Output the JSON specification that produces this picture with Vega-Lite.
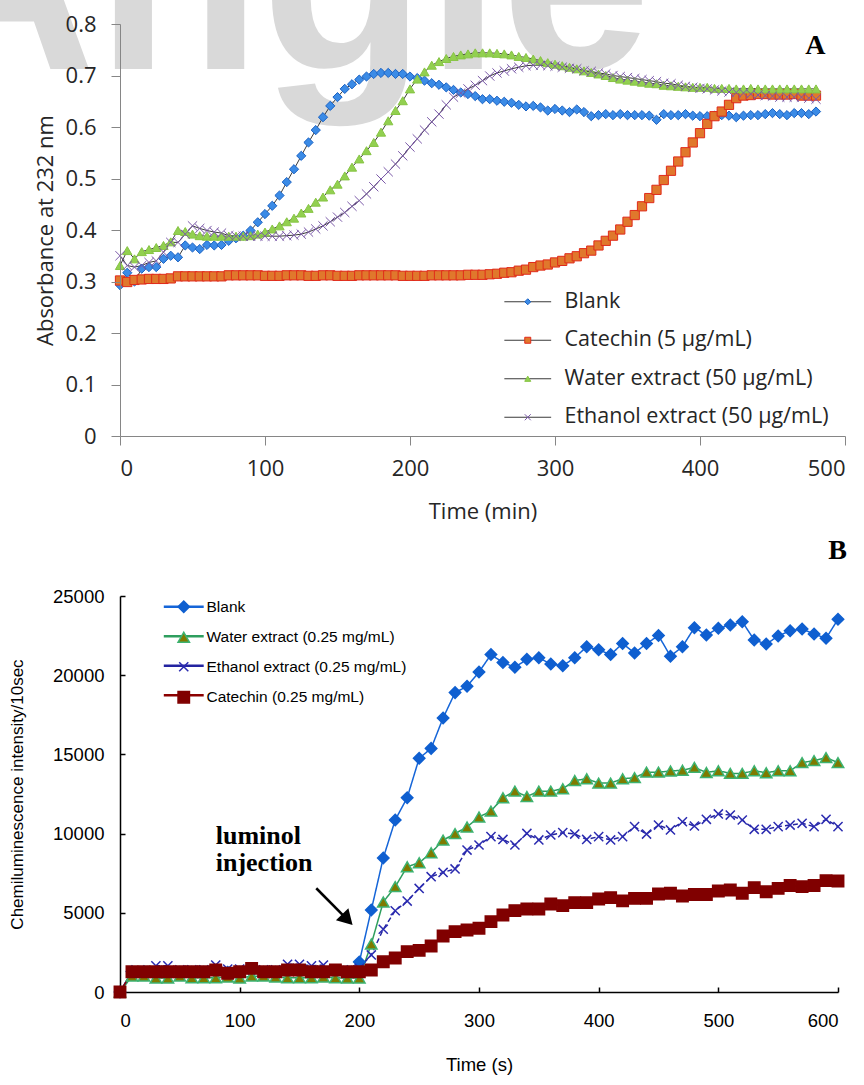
{
"$schema": "https://vega.github.io/schema/vega-lite/v6.json",
"background": "white",
"padding": {"left": -99, "top": -147, "right": 5, "bottom": 5},
"spacing": 15,
"config": {"view": {"stroke": null}},
"resolve": {"scale": {"color": "independent", "fill": "independent", "stroke": "independent", "shape": "independent", "strokeDash": "independent"}, "legend": {"color": "independent", "fill": "independent", "stroke": "independent", "shape": "independent", "strokeDash": "independent"}},
"datasets": {
"absorbance": [
{"series":"Blank","time":0,"value":0.293},{"series":"Blank","time":5,"value":0.317},{"series":"Blank","time":10,"value":0.300},{"series":"Blank","time":15,"value":0.325},{"series":"Blank","time":20,"value":0.328},{"series":"Blank","time":25,"value":0.328},{"series":"Blank","time":30,"value":0.344},{"series":"Blank","time":35,"value":0.350},{"series":"Blank","time":40,"value":0.347},{"series":"Blank","time":45,"value":0.370},
{"series":"Blank","time":50,"value":0.366},{"series":"Blank","time":55,"value":0.363},{"series":"Blank","time":60,"value":0.371},{"series":"Blank","time":65,"value":0.370},{"series":"Blank","time":70,"value":0.371},{"series":"Blank","time":75,"value":0.379},{"series":"Blank","time":80,"value":0.384},{"series":"Blank","time":85,"value":0.389},{"series":"Blank","time":90,"value":0.399},{"series":"Blank","time":95,"value":0.415},
{"series":"Blank","time":100,"value":0.431},{"series":"Blank","time":105,"value":0.447},{"series":"Blank","time":110,"value":0.467},{"series":"Blank","time":115,"value":0.493},{"series":"Blank","time":120,"value":0.518},{"series":"Blank","time":125,"value":0.544},{"series":"Blank","time":130,"value":0.570},{"series":"Blank","time":135,"value":0.594},{"series":"Blank","time":140,"value":0.619},{"series":"Blank","time":145,"value":0.641},
{"series":"Blank","time":150,"value":0.658},{"series":"Blank","time":155,"value":0.674},{"series":"Blank","time":160,"value":0.683},{"series":"Blank","time":165,"value":0.692},{"series":"Blank","time":170,"value":0.698},{"series":"Blank","time":175,"value":0.703},{"series":"Blank","time":180,"value":0.705},{"series":"Blank","time":185,"value":0.705},{"series":"Blank","time":190,"value":0.703},{"series":"Blank","time":195,"value":0.703},
{"series":"Blank","time":200,"value":0.698},{"series":"Blank","time":205,"value":0.695},{"series":"Blank","time":210,"value":0.690},{"series":"Blank","time":215,"value":0.685},{"series":"Blank","time":220,"value":0.682},{"series":"Blank","time":225,"value":0.677},{"series":"Blank","time":230,"value":0.672},{"series":"Blank","time":235,"value":0.667},{"series":"Blank","time":240,"value":0.664},{"series":"Blank","time":245,"value":0.660},
{"series":"Blank","time":250,"value":0.654},{"series":"Blank","time":255,"value":0.654},{"series":"Blank","time":260,"value":0.651},{"series":"Blank","time":265,"value":0.649},{"series":"Blank","time":270,"value":0.647},{"series":"Blank","time":275,"value":0.643},{"series":"Blank","time":280,"value":0.640},{"series":"Blank","time":285,"value":0.641},{"series":"Blank","time":290,"value":0.638},{"series":"Blank","time":295,"value":0.632},
{"series":"Blank","time":300,"value":0.635},{"series":"Blank","time":305,"value":0.632},{"series":"Blank","time":310,"value":0.629},{"series":"Blank","time":315,"value":0.634},{"series":"Blank","time":320,"value":0.629},{"series":"Blank","time":325,"value":0.621},{"series":"Blank","time":330,"value":0.623},{"series":"Blank","time":335,"value":0.625},{"series":"Blank","time":340,"value":0.623},{"series":"Blank","time":345,"value":0.625},
{"series":"Blank","time":350,"value":0.623},{"series":"Blank","time":355,"value":0.623},{"series":"Blank","time":360,"value":0.623},{"series":"Blank","time":365,"value":0.622},{"series":"Blank","time":370,"value":0.614},{"series":"Blank","time":375,"value":0.625},{"series":"Blank","time":380,"value":0.623},{"series":"Blank","time":385,"value":0.623},{"series":"Blank","time":390,"value":0.625},{"series":"Blank","time":395,"value":0.622},
{"series":"Blank","time":400,"value":0.621},{"series":"Blank","time":405,"value":0.621},{"series":"Blank","time":410,"value":0.622},{"series":"Blank","time":415,"value":0.623},{"series":"Blank","time":420,"value":0.622},{"series":"Blank","time":425,"value":0.619},{"series":"Blank","time":430,"value":0.622},{"series":"Blank","time":435,"value":0.623},{"series":"Blank","time":440,"value":0.623},{"series":"Blank","time":445,"value":0.625},
{"series":"Blank","time":450,"value":0.627},{"series":"Blank","time":455,"value":0.625},{"series":"Blank","time":460,"value":0.623},{"series":"Blank","time":465,"value":0.627},{"series":"Blank","time":470,"value":0.627},{"series":"Blank","time":475,"value":0.625},{"series":"Blank","time":480,"value":0.630},
{"series":"Catechin (5 μg/mL)","time":0,"value":0.302},{"series":"Catechin (5 μg/mL)","time":5,"value":0.299},{"series":"Catechin (5 μg/mL)","time":10,"value":0.303},{"series":"Catechin (5 μg/mL)","time":15,"value":0.304},{"series":"Catechin (5 μg/mL)","time":20,"value":0.305},{"series":"Catechin (5 μg/mL)","time":25,"value":0.305},{"series":"Catechin (5 μg/mL)","time":30,"value":0.305},{"series":"Catechin (5 μg/mL)","time":35,"value":0.306},{"series":"Catechin (5 μg/mL)","time":40,"value":0.310},{"series":"Catechin (5 μg/mL)","time":45,"value":0.310},
{"series":"Catechin (5 μg/mL)","time":50,"value":0.310},{"series":"Catechin (5 μg/mL)","time":55,"value":0.310},{"series":"Catechin (5 μg/mL)","time":60,"value":0.310},{"series":"Catechin (5 μg/mL)","time":65,"value":0.310},{"series":"Catechin (5 μg/mL)","time":70,"value":0.310},{"series":"Catechin (5 μg/mL)","time":75,"value":0.312},{"series":"Catechin (5 μg/mL)","time":80,"value":0.312},{"series":"Catechin (5 μg/mL)","time":85,"value":0.312},{"series":"Catechin (5 μg/mL)","time":90,"value":0.312},{"series":"Catechin (5 μg/mL)","time":95,"value":0.312},
{"series":"Catechin (5 μg/mL)","time":100,"value":0.311},{"series":"Catechin (5 μg/mL)","time":105,"value":0.311},{"series":"Catechin (5 μg/mL)","time":110,"value":0.311},{"series":"Catechin (5 μg/mL)","time":115,"value":0.312},{"series":"Catechin (5 μg/mL)","time":120,"value":0.312},{"series":"Catechin (5 μg/mL)","time":125,"value":0.312},{"series":"Catechin (5 μg/mL)","time":130,"value":0.311},{"series":"Catechin (5 μg/mL)","time":135,"value":0.311},{"series":"Catechin (5 μg/mL)","time":140,"value":0.312},{"series":"Catechin (5 μg/mL)","time":145,"value":0.312},
{"series":"Catechin (5 μg/mL)","time":150,"value":0.311},{"series":"Catechin (5 μg/mL)","time":155,"value":0.311},{"series":"Catechin (5 μg/mL)","time":160,"value":0.311},{"series":"Catechin (5 μg/mL)","time":165,"value":0.312},{"series":"Catechin (5 μg/mL)","time":170,"value":0.312},{"series":"Catechin (5 μg/mL)","time":175,"value":0.312},{"series":"Catechin (5 μg/mL)","time":180,"value":0.312},{"series":"Catechin (5 μg/mL)","time":185,"value":0.312},{"series":"Catechin (5 μg/mL)","time":190,"value":0.312},{"series":"Catechin (5 μg/mL)","time":195,"value":0.311},
{"series":"Catechin (5 μg/mL)","time":200,"value":0.311},{"series":"Catechin (5 μg/mL)","time":205,"value":0.311},{"series":"Catechin (5 μg/mL)","time":210,"value":0.311},{"series":"Catechin (5 μg/mL)","time":215,"value":0.312},{"series":"Catechin (5 μg/mL)","time":220,"value":0.312},{"series":"Catechin (5 μg/mL)","time":225,"value":0.312},{"series":"Catechin (5 μg/mL)","time":230,"value":0.312},{"series":"Catechin (5 μg/mL)","time":235,"value":0.312},{"series":"Catechin (5 μg/mL)","time":240,"value":0.313},{"series":"Catechin (5 μg/mL)","time":245,"value":0.313},
{"series":"Catechin (5 μg/mL)","time":250,"value":0.313},{"series":"Catechin (5 μg/mL)","time":255,"value":0.314},{"series":"Catechin (5 μg/mL)","time":260,"value":0.315},{"series":"Catechin (5 μg/mL)","time":265,"value":0.317},{"series":"Catechin (5 μg/mL)","time":270,"value":0.318},{"series":"Catechin (5 μg/mL)","time":275,"value":0.321},{"series":"Catechin (5 μg/mL)","time":280,"value":0.323},{"series":"Catechin (5 μg/mL)","time":285,"value":0.328},{"series":"Catechin (5 μg/mL)","time":290,"value":0.331},{"series":"Catechin (5 μg/mL)","time":295,"value":0.333},
{"series":"Catechin (5 μg/mL)","time":300,"value":0.337},{"series":"Catechin (5 μg/mL)","time":305,"value":0.340},{"series":"Catechin (5 μg/mL)","time":310,"value":0.345},{"series":"Catechin (5 μg/mL)","time":315,"value":0.349},{"series":"Catechin (5 μg/mL)","time":320,"value":0.355},{"series":"Catechin (5 μg/mL)","time":325,"value":0.360},{"series":"Catechin (5 μg/mL)","time":330,"value":0.370},{"series":"Catechin (5 μg/mL)","time":335,"value":0.379},{"series":"Catechin (5 μg/mL)","time":340,"value":0.389},{"series":"Catechin (5 μg/mL)","time":345,"value":0.401},
{"series":"Catechin (5 μg/mL)","time":350,"value":0.416},{"series":"Catechin (5 μg/mL)","time":355,"value":0.429},{"series":"Catechin (5 μg/mL)","time":360,"value":0.446},{"series":"Catechin (5 μg/mL)","time":365,"value":0.462},{"series":"Catechin (5 μg/mL)","time":370,"value":0.478},{"series":"Catechin (5 μg/mL)","time":375,"value":0.497},{"series":"Catechin (5 μg/mL)","time":380,"value":0.515},{"series":"Catechin (5 μg/mL)","time":385,"value":0.533},{"series":"Catechin (5 μg/mL)","time":390,"value":0.551},{"series":"Catechin (5 μg/mL)","time":395,"value":0.570},
{"series":"Catechin (5 μg/mL)","time":400,"value":0.588},{"series":"Catechin (5 μg/mL)","time":405,"value":0.606},{"series":"Catechin (5 μg/mL)","time":410,"value":0.621},{"series":"Catechin (5 μg/mL)","time":415,"value":0.630},{"series":"Catechin (5 μg/mL)","time":420,"value":0.643},{"series":"Catechin (5 μg/mL)","time":425,"value":0.656},{"series":"Catechin (5 μg/mL)","time":430,"value":0.661},{"series":"Catechin (5 μg/mL)","time":435,"value":0.662},{"series":"Catechin (5 μg/mL)","time":440,"value":0.664},{"series":"Catechin (5 μg/mL)","time":445,"value":0.664},
{"series":"Catechin (5 μg/mL)","time":450,"value":0.663},{"series":"Catechin (5 μg/mL)","time":455,"value":0.663},{"series":"Catechin (5 μg/mL)","time":460,"value":0.663},{"series":"Catechin (5 μg/mL)","time":465,"value":0.664},{"series":"Catechin (5 μg/mL)","time":470,"value":0.661},{"series":"Catechin (5 μg/mL)","time":475,"value":0.661},{"series":"Catechin (5 μg/mL)","time":480,"value":0.661},
{"series":"Water extract (50 μg/mL)","time":0,"value":0.331},{"series":"Water extract (50 μg/mL)","time":5,"value":0.360},{"series":"Water extract (50 μg/mL)","time":10,"value":0.344},{"series":"Water extract (50 μg/mL)","time":15,"value":0.358},{"series":"Water extract (50 μg/mL)","time":20,"value":0.362},{"series":"Water extract (50 μg/mL)","time":25,"value":0.366},{"series":"Water extract (50 μg/mL)","time":30,"value":0.370},{"series":"Water extract (50 μg/mL)","time":35,"value":0.377},{"series":"Water extract (50 μg/mL)","time":40,"value":0.399},{"series":"Water extract (50 μg/mL)","time":45,"value":0.397},
{"series":"Water extract (50 μg/mL)","time":50,"value":0.392},{"series":"Water extract (50 μg/mL)","time":55,"value":0.389},{"series":"Water extract (50 μg/mL)","time":60,"value":0.388},{"series":"Water extract (50 μg/mL)","time":65,"value":0.388},{"series":"Water extract (50 μg/mL)","time":70,"value":0.388},{"series":"Water extract (50 μg/mL)","time":75,"value":0.388},{"series":"Water extract (50 μg/mL)","time":80,"value":0.388},{"series":"Water extract (50 μg/mL)","time":85,"value":0.388},{"series":"Water extract (50 μg/mL)","time":90,"value":0.389},{"series":"Water extract (50 μg/mL)","time":95,"value":0.392},
{"series":"Water extract (50 μg/mL)","time":100,"value":0.396},{"series":"Water extract (50 μg/mL)","time":105,"value":0.402},{"series":"Water extract (50 μg/mL)","time":110,"value":0.408},{"series":"Water extract (50 μg/mL)","time":115,"value":0.416},{"series":"Water extract (50 μg/mL)","time":120,"value":0.423},{"series":"Water extract (50 μg/mL)","time":125,"value":0.433},{"series":"Water extract (50 μg/mL)","time":130,"value":0.442},{"series":"Water extract (50 μg/mL)","time":135,"value":0.454},{"series":"Water extract (50 μg/mL)","time":140,"value":0.464},{"series":"Water extract (50 μg/mL)","time":145,"value":0.478},
{"series":"Water extract (50 μg/mL)","time":150,"value":0.489},{"series":"Water extract (50 μg/mL)","time":155,"value":0.505},{"series":"Water extract (50 μg/mL)","time":160,"value":0.522},{"series":"Water extract (50 μg/mL)","time":165,"value":0.538},{"series":"Water extract (50 μg/mL)","time":170,"value":0.554},{"series":"Water extract (50 μg/mL)","time":175,"value":0.570},{"series":"Water extract (50 μg/mL)","time":180,"value":0.590},{"series":"Water extract (50 μg/mL)","time":185,"value":0.612},{"series":"Water extract (50 μg/mL)","time":190,"value":0.632},{"series":"Water extract (50 μg/mL)","time":195,"value":0.651},
{"series":"Water extract (50 μg/mL)","time":200,"value":0.674},{"series":"Water extract (50 μg/mL)","time":205,"value":0.693},{"series":"Water extract (50 μg/mL)","time":210,"value":0.707},{"series":"Water extract (50 μg/mL)","time":215,"value":0.720},{"series":"Water extract (50 μg/mL)","time":220,"value":0.727},{"series":"Water extract (50 μg/mL)","time":225,"value":0.733},{"series":"Water extract (50 μg/mL)","time":230,"value":0.737},{"series":"Water extract (50 μg/mL)","time":235,"value":0.740},{"series":"Water extract (50 μg/mL)","time":240,"value":0.742},{"series":"Water extract (50 μg/mL)","time":245,"value":0.744},
{"series":"Water extract (50 μg/mL)","time":250,"value":0.744},{"series":"Water extract (50 μg/mL)","time":255,"value":0.744},{"series":"Water extract (50 μg/mL)","time":260,"value":0.743},{"series":"Water extract (50 μg/mL)","time":265,"value":0.742},{"series":"Water extract (50 μg/mL)","time":270,"value":0.740},{"series":"Water extract (50 μg/mL)","time":275,"value":0.737},{"series":"Water extract (50 μg/mL)","time":280,"value":0.735},{"series":"Water extract (50 μg/mL)","time":285,"value":0.732},{"series":"Water extract (50 μg/mL)","time":290,"value":0.729},{"series":"Water extract (50 μg/mL)","time":295,"value":0.725},
{"series":"Water extract (50 μg/mL)","time":300,"value":0.722},{"series":"Water extract (50 μg/mL)","time":305,"value":0.719},{"series":"Water extract (50 μg/mL)","time":310,"value":0.716},{"series":"Water extract (50 μg/mL)","time":315,"value":0.713},{"series":"Water extract (50 μg/mL)","time":320,"value":0.709},{"series":"Water extract (50 μg/mL)","time":325,"value":0.706},{"series":"Water extract (50 μg/mL)","time":330,"value":0.703},{"series":"Water extract (50 μg/mL)","time":335,"value":0.700},{"series":"Water extract (50 μg/mL)","time":340,"value":0.696},{"series":"Water extract (50 μg/mL)","time":345,"value":0.693},
{"series":"Water extract (50 μg/mL)","time":350,"value":0.691},{"series":"Water extract (50 μg/mL)","time":355,"value":0.689},{"series":"Water extract (50 μg/mL)","time":360,"value":0.687},{"series":"Water extract (50 μg/mL)","time":365,"value":0.685},{"series":"Water extract (50 μg/mL)","time":370,"value":0.684},{"series":"Water extract (50 μg/mL)","time":375,"value":0.681},{"series":"Water extract (50 μg/mL)","time":380,"value":0.680},{"series":"Water extract (50 μg/mL)","time":385,"value":0.679},{"series":"Water extract (50 μg/mL)","time":390,"value":0.678},{"series":"Water extract (50 μg/mL)","time":395,"value":0.677},
{"series":"Water extract (50 μg/mL)","time":400,"value":0.677},{"series":"Water extract (50 μg/mL)","time":405,"value":0.677},{"series":"Water extract (50 μg/mL)","time":410,"value":0.675},{"series":"Water extract (50 μg/mL)","time":415,"value":0.675},{"series":"Water extract (50 μg/mL)","time":420,"value":0.675},{"series":"Water extract (50 μg/mL)","time":425,"value":0.674},{"series":"Water extract (50 μg/mL)","time":430,"value":0.674},{"series":"Water extract (50 μg/mL)","time":435,"value":0.675},{"series":"Water extract (50 μg/mL)","time":440,"value":0.674},{"series":"Water extract (50 μg/mL)","time":445,"value":0.674},
{"series":"Water extract (50 μg/mL)","time":450,"value":0.674},{"series":"Water extract (50 μg/mL)","time":455,"value":0.674},{"series":"Water extract (50 μg/mL)","time":460,"value":0.674},{"series":"Water extract (50 μg/mL)","time":465,"value":0.674},{"series":"Water extract (50 μg/mL)","time":470,"value":0.674},{"series":"Water extract (50 μg/mL)","time":475,"value":0.674},{"series":"Water extract (50 μg/mL)","time":480,"value":0.674},
{"series":"Ethanol extract (50 μg/mL)","time":0,"value":0.350},{"series":"Ethanol extract (50 μg/mL)","time":5,"value":0.331},{"series":"Ethanol extract (50 μg/mL)","time":10,"value":0.328},{"series":"Ethanol extract (50 μg/mL)","time":15,"value":0.331},{"series":"Ethanol extract (50 μg/mL)","time":20,"value":0.337},{"series":"Ethanol extract (50 μg/mL)","time":25,"value":0.340},{"series":"Ethanol extract (50 μg/mL)","time":30,"value":0.357},{"series":"Ethanol extract (50 μg/mL)","time":35,"value":0.376},{"series":"Ethanol extract (50 μg/mL)","time":40,"value":0.376},{"series":"Ethanol extract (50 μg/mL)","time":45,"value":0.392},
{"series":"Ethanol extract (50 μg/mL)","time":50,"value":0.408},{"series":"Ethanol extract (50 μg/mL)","time":55,"value":0.403},{"series":"Ethanol extract (50 μg/mL)","time":60,"value":0.399},{"series":"Ethanol extract (50 μg/mL)","time":65,"value":0.396},{"series":"Ethanol extract (50 μg/mL)","time":70,"value":0.394},{"series":"Ethanol extract (50 μg/mL)","time":75,"value":0.389},{"series":"Ethanol extract (50 μg/mL)","time":80,"value":0.388},{"series":"Ethanol extract (50 μg/mL)","time":85,"value":0.388},{"series":"Ethanol extract (50 μg/mL)","time":90,"value":0.388},{"series":"Ethanol extract (50 μg/mL)","time":95,"value":0.388},
{"series":"Ethanol extract (50 μg/mL)","time":100,"value":0.388},{"series":"Ethanol extract (50 μg/mL)","time":105,"value":0.388},{"series":"Ethanol extract (50 μg/mL)","time":110,"value":0.388},{"series":"Ethanol extract (50 μg/mL)","time":115,"value":0.389},{"series":"Ethanol extract (50 μg/mL)","time":120,"value":0.390},{"series":"Ethanol extract (50 μg/mL)","time":125,"value":0.392},{"series":"Ethanol extract (50 μg/mL)","time":130,"value":0.396},{"series":"Ethanol extract (50 μg/mL)","time":135,"value":0.402},{"series":"Ethanol extract (50 μg/mL)","time":140,"value":0.408},{"series":"Ethanol extract (50 μg/mL)","time":145,"value":0.416},
{"series":"Ethanol extract (50 μg/mL)","time":150,"value":0.425},{"series":"Ethanol extract (50 μg/mL)","time":155,"value":0.434},{"series":"Ethanol extract (50 μg/mL)","time":160,"value":0.446},{"series":"Ethanol extract (50 μg/mL)","time":165,"value":0.457},{"series":"Ethanol extract (50 μg/mL)","time":170,"value":0.470},{"series":"Ethanol extract (50 μg/mL)","time":175,"value":0.484},{"series":"Ethanol extract (50 μg/mL)","time":180,"value":0.499},{"series":"Ethanol extract (50 μg/mL)","time":185,"value":0.513},{"series":"Ethanol extract (50 μg/mL)","time":190,"value":0.528},{"series":"Ethanol extract (50 μg/mL)","time":195,"value":0.544},
{"series":"Ethanol extract (50 μg/mL)","time":200,"value":0.561},{"series":"Ethanol extract (50 μg/mL)","time":205,"value":0.577},{"series":"Ethanol extract (50 μg/mL)","time":210,"value":0.594},{"series":"Ethanol extract (50 μg/mL)","time":215,"value":0.610},{"series":"Ethanol extract (50 μg/mL)","time":220,"value":0.625},{"series":"Ethanol extract (50 μg/mL)","time":225,"value":0.643},{"series":"Ethanol extract (50 μg/mL)","time":230,"value":0.658},{"series":"Ethanol extract (50 μg/mL)","time":235,"value":0.666},{"series":"Ethanol extract (50 μg/mL)","time":240,"value":0.674},{"series":"Ethanol extract (50 μg/mL)","time":245,"value":0.681},
{"series":"Ethanol extract (50 μg/mL)","time":250,"value":0.690},{"series":"Ethanol extract (50 μg/mL)","time":255,"value":0.699},{"series":"Ethanol extract (50 μg/mL)","time":260,"value":0.705},{"series":"Ethanol extract (50 μg/mL)","time":265,"value":0.709},{"series":"Ethanol extract (50 μg/mL)","time":270,"value":0.713},{"series":"Ethanol extract (50 μg/mL)","time":275,"value":0.716},{"series":"Ethanol extract (50 μg/mL)","time":280,"value":0.719},{"series":"Ethanol extract (50 μg/mL)","time":285,"value":0.720},{"series":"Ethanol extract (50 μg/mL)","time":290,"value":0.720},{"series":"Ethanol extract (50 μg/mL)","time":295,"value":0.719},
{"series":"Ethanol extract (50 μg/mL)","time":300,"value":0.718},{"series":"Ethanol extract (50 μg/mL)","time":305,"value":0.716},{"series":"Ethanol extract (50 μg/mL)","time":310,"value":0.714},{"series":"Ethanol extract (50 μg/mL)","time":315,"value":0.713},{"series":"Ethanol extract (50 μg/mL)","time":320,"value":0.709},{"series":"Ethanol extract (50 μg/mL)","time":325,"value":0.708},{"series":"Ethanol extract (50 μg/mL)","time":330,"value":0.705},{"series":"Ethanol extract (50 μg/mL)","time":335,"value":0.703},{"series":"Ethanol extract (50 μg/mL)","time":340,"value":0.700},{"series":"Ethanol extract (50 μg/mL)","time":345,"value":0.698},
{"series":"Ethanol extract (50 μg/mL)","time":350,"value":0.696},{"series":"Ethanol extract (50 μg/mL)","time":355,"value":0.694},{"series":"Ethanol extract (50 μg/mL)","time":360,"value":0.692},{"series":"Ethanol extract (50 μg/mL)","time":365,"value":0.690},{"series":"Ethanol extract (50 μg/mL)","time":370,"value":0.688},{"series":"Ethanol extract (50 μg/mL)","time":375,"value":0.685},{"series":"Ethanol extract (50 μg/mL)","time":380,"value":0.684},{"series":"Ethanol extract (50 μg/mL)","time":385,"value":0.681},{"series":"Ethanol extract (50 μg/mL)","time":390,"value":0.679},{"series":"Ethanol extract (50 μg/mL)","time":395,"value":0.677},
{"series":"Ethanol extract (50 μg/mL)","time":400,"value":0.675},{"series":"Ethanol extract (50 μg/mL)","time":405,"value":0.674},{"series":"Ethanol extract (50 μg/mL)","time":410,"value":0.672},{"series":"Ethanol extract (50 μg/mL)","time":415,"value":0.670},{"series":"Ethanol extract (50 μg/mL)","time":420,"value":0.668},{"series":"Ethanol extract (50 μg/mL)","time":425,"value":0.667},{"series":"Ethanol extract (50 μg/mL)","time":430,"value":0.666},{"series":"Ethanol extract (50 μg/mL)","time":435,"value":0.664},{"series":"Ethanol extract (50 μg/mL)","time":440,"value":0.662},{"series":"Ethanol extract (50 μg/mL)","time":445,"value":0.661},
{"series":"Ethanol extract (50 μg/mL)","time":450,"value":0.660},{"series":"Ethanol extract (50 μg/mL)","time":455,"value":0.658},{"series":"Ethanol extract (50 μg/mL)","time":460,"value":0.658},{"series":"Ethanol extract (50 μg/mL)","time":465,"value":0.658},{"series":"Ethanol extract (50 μg/mL)","time":470,"value":0.658},{"series":"Ethanol extract (50 μg/mL)","time":475,"value":0.656},{"series":"Ethanol extract (50 μg/mL)","time":480,"value":0.654}
],
"chemi": [
{"series":"Blank","time":0,"value":0},{"series":"Blank","time":10,"value":1300},{"series":"Blank","time":20,"value":1300},{"series":"Blank","time":30,"value":1250},{"series":"Blank","time":40,"value":1250},{"series":"Blank","time":50,"value":1250},{"series":"Blank","time":60,"value":1250},{"series":"Blank","time":70,"value":1250},{"series":"Blank","time":80,"value":1300},{"series":"Blank","time":90,"value":1250},
{"series":"Blank","time":100,"value":1250},{"series":"Blank","time":110,"value":1300},{"series":"Blank","time":120,"value":1250},{"series":"Blank","time":130,"value":1250},{"series":"Blank","time":140,"value":1300},{"series":"Blank","time":150,"value":1300},{"series":"Blank","time":160,"value":1250},{"series":"Blank","time":170,"value":1250},{"series":"Blank","time":180,"value":1250},{"series":"Blank","time":190,"value":1300},
{"series":"Blank","time":200,"value":1900},{"series":"Blank","time":210,"value":5180},{"series":"Blank","time":220,"value":8460},{"series":"Blank","time":230,"value":10860},{"series":"Blank","time":240,"value":12270},{"series":"Blank","time":250,"value":14750},{"series":"Blank","time":260,"value":15380},{"series":"Blank","time":270,"value":17300},{"series":"Blank","time":280,"value":18900},{"series":"Blank","time":290,"value":19300},
{"series":"Blank","time":300,"value":20200},{"series":"Blank","time":310,"value":21300},{"series":"Blank","time":320,"value":20800},{"series":"Blank","time":330,"value":20500},{"series":"Blank","time":340,"value":21000},{"series":"Blank","time":350,"value":21100},{"series":"Blank","time":360,"value":20700},{"series":"Blank","time":370,"value":20600},{"series":"Blank","time":380,"value":21100},{"series":"Blank","time":390,"value":21800},
{"series":"Blank","time":400,"value":21600},{"series":"Blank","time":410,"value":21300},{"series":"Blank","time":420,"value":22000},{"series":"Blank","time":430,"value":21400},{"series":"Blank","time":440,"value":22000},{"series":"Blank","time":450,"value":22500},{"series":"Blank","time":460,"value":21200},{"series":"Blank","time":470,"value":21800},{"series":"Blank","time":480,"value":23000},{"series":"Blank","time":490,"value":22540},
{"series":"Blank","time":500,"value":22960},{"series":"Blank","time":510,"value":23170},{"series":"Blank","time":520,"value":23380},{"series":"Blank","time":530,"value":22220},{"series":"Blank","time":540,"value":21970},{"series":"Blank","time":550,"value":22470},{"series":"Blank","time":560,"value":22810},{"series":"Blank","time":570,"value":22920},{"series":"Blank","time":580,"value":22600},{"series":"Blank","time":590,"value":22330},{"series":"Blank","time":600,"value":23530},
{"series":"Water extract (0.25 mg/mL)","time":0,"value":0},{"series":"Water extract (0.25 mg/mL)","time":10,"value":1000},{"series":"Water extract (0.25 mg/mL)","time":20,"value":1000},{"series":"Water extract (0.25 mg/mL)","time":30,"value":880},{"series":"Water extract (0.25 mg/mL)","time":40,"value":880},{"series":"Water extract (0.25 mg/mL)","time":50,"value":1000},{"series":"Water extract (0.25 mg/mL)","time":60,"value":900},{"series":"Water extract (0.25 mg/mL)","time":70,"value":900},{"series":"Water extract (0.25 mg/mL)","time":80,"value":900},{"series":"Water extract (0.25 mg/mL)","time":90,"value":950},
{"series":"Water extract (0.25 mg/mL)","time":100,"value":880},{"series":"Water extract (0.25 mg/mL)","time":110,"value":1000},{"series":"Water extract (0.25 mg/mL)","time":120,"value":1000},{"series":"Water extract (0.25 mg/mL)","time":130,"value":950},{"series":"Water extract (0.25 mg/mL)","time":140,"value":900},{"series":"Water extract (0.25 mg/mL)","time":150,"value":900},{"series":"Water extract (0.25 mg/mL)","time":160,"value":900},{"series":"Water extract (0.25 mg/mL)","time":170,"value":950},{"series":"Water extract (0.25 mg/mL)","time":180,"value":900},{"series":"Water extract (0.25 mg/mL)","time":190,"value":880},
{"series":"Water extract (0.25 mg/mL)","time":200,"value":880},{"series":"Water extract (0.25 mg/mL)","time":210,"value":3030},{"series":"Water extract (0.25 mg/mL)","time":220,"value":5680},{"series":"Water extract (0.25 mg/mL)","time":230,"value":6650},{"series":"Water extract (0.25 mg/mL)","time":240,"value":7910},{"series":"Water extract (0.25 mg/mL)","time":250,"value":8160},{"series":"Water extract (0.25 mg/mL)","time":260,"value":8790},{"series":"Water extract (0.25 mg/mL)","time":270,"value":9590},{"series":"Water extract (0.25 mg/mL)","time":280,"value":10000},{"series":"Water extract (0.25 mg/mL)","time":290,"value":10420},
{"series":"Water extract (0.25 mg/mL)","time":300,"value":11050},{"series":"Water extract (0.25 mg/mL)","time":310,"value":11420},{"series":"Water extract (0.25 mg/mL)","time":320,"value":12260},{"series":"Water extract (0.25 mg/mL)","time":330,"value":12680},{"series":"Water extract (0.25 mg/mL)","time":340,"value":12340},{"series":"Water extract (0.25 mg/mL)","time":350,"value":12680},{"series":"Water extract (0.25 mg/mL)","time":360,"value":12680},{"series":"Water extract (0.25 mg/mL)","time":370,"value":12830},{"series":"Water extract (0.25 mg/mL)","time":380,"value":13350},{"series":"Water extract (0.25 mg/mL)","time":390,"value":13460},
{"series":"Water extract (0.25 mg/mL)","time":400,"value":13190},{"series":"Water extract (0.25 mg/mL)","time":410,"value":13190},{"series":"Water extract (0.25 mg/mL)","time":420,"value":13460},{"series":"Water extract (0.25 mg/mL)","time":430,"value":13530},{"series":"Water extract (0.25 mg/mL)","time":440,"value":13880},{"series":"Water extract (0.25 mg/mL)","time":450,"value":13880},{"series":"Water extract (0.25 mg/mL)","time":460,"value":13950},{"series":"Water extract (0.25 mg/mL)","time":470,"value":14000},{"series":"Water extract (0.25 mg/mL)","time":480,"value":14180},{"series":"Water extract (0.25 mg/mL)","time":490,"value":13860},
{"series":"Water extract (0.25 mg/mL)","time":500,"value":13970},{"series":"Water extract (0.25 mg/mL)","time":510,"value":13800},{"series":"Water extract (0.25 mg/mL)","time":520,"value":13800},{"series":"Water extract (0.25 mg/mL)","time":530,"value":13970},{"series":"Water extract (0.25 mg/mL)","time":540,"value":13840},{"series":"Water extract (0.25 mg/mL)","time":550,"value":13970},{"series":"Water extract (0.25 mg/mL)","time":560,"value":13970},{"series":"Water extract (0.25 mg/mL)","time":570,"value":14480},{"series":"Water extract (0.25 mg/mL)","time":580,"value":14610},{"series":"Water extract (0.25 mg/mL)","time":590,"value":14800},{"series":"Water extract (0.25 mg/mL)","time":600,"value":14480},
{"series":"Ethanol extract (0.25 mg/mL)","time":0,"value":0},{"series":"Ethanol extract (0.25 mg/mL)","time":10,"value":1300},{"series":"Ethanol extract (0.25 mg/mL)","time":20,"value":1350},{"series":"Ethanol extract (0.25 mg/mL)","time":30,"value":1650},{"series":"Ethanol extract (0.25 mg/mL)","time":40,"value":1650},{"series":"Ethanol extract (0.25 mg/mL)","time":50,"value":1400},{"series":"Ethanol extract (0.25 mg/mL)","time":60,"value":1400},{"series":"Ethanol extract (0.25 mg/mL)","time":70,"value":1400},{"series":"Ethanol extract (0.25 mg/mL)","time":80,"value":1700},{"series":"Ethanol extract (0.25 mg/mL)","time":90,"value":1450},
{"series":"Ethanol extract (0.25 mg/mL)","time":100,"value":1450},{"series":"Ethanol extract (0.25 mg/mL)","time":110,"value":1500},{"series":"Ethanol extract (0.25 mg/mL)","time":120,"value":1400},{"series":"Ethanol extract (0.25 mg/mL)","time":130,"value":1400},{"series":"Ethanol extract (0.25 mg/mL)","time":140,"value":1750},{"series":"Ethanol extract (0.25 mg/mL)","time":150,"value":1750},{"series":"Ethanol extract (0.25 mg/mL)","time":160,"value":1650},{"series":"Ethanol extract (0.25 mg/mL)","time":170,"value":1700},{"series":"Ethanol extract (0.25 mg/mL)","time":180,"value":1400},{"series":"Ethanol extract (0.25 mg/mL)","time":190,"value":1350},
{"series":"Ethanol extract (0.25 mg/mL)","time":200,"value":1500},{"series":"Ethanol extract (0.25 mg/mL)","time":210,"value":2340},{"series":"Ethanol extract (0.25 mg/mL)","time":220,"value":3960},{"series":"Ethanol extract (0.25 mg/mL)","time":230,"value":5130},{"series":"Ethanol extract (0.25 mg/mL)","time":240,"value":5740},{"series":"Ethanol extract (0.25 mg/mL)","time":250,"value":6540},{"series":"Ethanol extract (0.25 mg/mL)","time":260,"value":7280},{"series":"Ethanol extract (0.25 mg/mL)","time":270,"value":7550},{"series":"Ethanol extract (0.25 mg/mL)","time":280,"value":7770},{"series":"Ethanol extract (0.25 mg/mL)","time":290,"value":8960},
{"series":"Ethanol extract (0.25 mg/mL)","time":300,"value":9280},{"series":"Ethanol extract (0.25 mg/mL)","time":310,"value":9810},{"series":"Ethanol extract (0.25 mg/mL)","time":320,"value":9630},{"series":"Ethanol extract (0.25 mg/mL)","time":330,"value":9280},{"series":"Ethanol extract (0.25 mg/mL)","time":340,"value":10010},{"series":"Ethanol extract (0.25 mg/mL)","time":350,"value":9600},{"series":"Ethanol extract (0.25 mg/mL)","time":360,"value":9910},{"series":"Ethanol extract (0.25 mg/mL)","time":370,"value":10060},{"series":"Ethanol extract (0.25 mg/mL)","time":380,"value":9970},{"series":"Ethanol extract (0.25 mg/mL)","time":390,"value":9630},
{"series":"Ethanol extract (0.25 mg/mL)","time":400,"value":9810},{"series":"Ethanol extract (0.25 mg/mL)","time":410,"value":9600},{"series":"Ethanol extract (0.25 mg/mL)","time":420,"value":9810},{"series":"Ethanol extract (0.25 mg/mL)","time":430,"value":10440},{"series":"Ethanol extract (0.25 mg/mL)","time":440,"value":9970},{"series":"Ethanol extract (0.25 mg/mL)","time":450,"value":10540},{"series":"Ethanol extract (0.25 mg/mL)","time":460,"value":10230},{"series":"Ethanol extract (0.25 mg/mL)","time":470,"value":10750},{"series":"Ethanol extract (0.25 mg/mL)","time":480,"value":10480},{"series":"Ethanol extract (0.25 mg/mL)","time":490,"value":10900},
{"series":"Ethanol extract (0.25 mg/mL)","time":500,"value":11240},{"series":"Ethanol extract (0.25 mg/mL)","time":510,"value":11170},{"series":"Ethanol extract (0.25 mg/mL)","time":520,"value":10860},{"series":"Ethanol extract (0.25 mg/mL)","time":530,"value":10270},{"series":"Ethanol extract (0.25 mg/mL)","time":540,"value":10270},{"series":"Ethanol extract (0.25 mg/mL)","time":550,"value":10440},{"series":"Ethanol extract (0.25 mg/mL)","time":560,"value":10540},{"series":"Ethanol extract (0.25 mg/mL)","time":570,"value":10650},{"series":"Ethanol extract (0.25 mg/mL)","time":580,"value":10440},{"series":"Ethanol extract (0.25 mg/mL)","time":590,"value":10900},{"series":"Ethanol extract (0.25 mg/mL)","time":600,"value":10440},
{"series":"Catechin (0.25 mg/mL)","time":0,"value":0},{"series":"Catechin (0.25 mg/mL)","time":10,"value":1280},{"series":"Catechin (0.25 mg/mL)","time":20,"value":1280},{"series":"Catechin (0.25 mg/mL)","time":30,"value":1280},{"series":"Catechin (0.25 mg/mL)","time":40,"value":1280},{"series":"Catechin (0.25 mg/mL)","time":50,"value":1280},{"series":"Catechin (0.25 mg/mL)","time":60,"value":1280},{"series":"Catechin (0.25 mg/mL)","time":70,"value":1280},{"series":"Catechin (0.25 mg/mL)","time":80,"value":1390},{"series":"Catechin (0.25 mg/mL)","time":90,"value":1180},
{"series":"Catechin (0.25 mg/mL)","time":100,"value":1280},{"series":"Catechin (0.25 mg/mL)","time":110,"value":1490},{"series":"Catechin (0.25 mg/mL)","time":120,"value":1280},{"series":"Catechin (0.25 mg/mL)","time":130,"value":1280},{"series":"Catechin (0.25 mg/mL)","time":140,"value":1390},{"series":"Catechin (0.25 mg/mL)","time":150,"value":1390},{"series":"Catechin (0.25 mg/mL)","time":160,"value":1280},{"series":"Catechin (0.25 mg/mL)","time":170,"value":1280},{"series":"Catechin (0.25 mg/mL)","time":180,"value":1390},{"series":"Catechin (0.25 mg/mL)","time":190,"value":1280},
{"series":"Catechin (0.25 mg/mL)","time":200,"value":1280},{"series":"Catechin (0.25 mg/mL)","time":210,"value":1390},{"series":"Catechin (0.25 mg/mL)","time":220,"value":1910},{"series":"Catechin (0.25 mg/mL)","time":230,"value":2150},{"series":"Catechin (0.25 mg/mL)","time":240,"value":2550},{"series":"Catechin (0.25 mg/mL)","time":250,"value":2630},{"series":"Catechin (0.25 mg/mL)","time":260,"value":2900},{"series":"Catechin (0.25 mg/mL)","time":270,"value":3540},{"series":"Catechin (0.25 mg/mL)","time":280,"value":3810},{"series":"Catechin (0.25 mg/mL)","time":290,"value":3910},
{"series":"Catechin (0.25 mg/mL)","time":300,"value":4020},{"series":"Catechin (0.25 mg/mL)","time":310,"value":4440},{"series":"Catechin (0.25 mg/mL)","time":320,"value":4860},{"series":"Catechin (0.25 mg/mL)","time":330,"value":5140},{"series":"Catechin (0.25 mg/mL)","time":340,"value":5240},{"series":"Catechin (0.25 mg/mL)","time":350,"value":5240},{"series":"Catechin (0.25 mg/mL)","time":360,"value":5560},{"series":"Catechin (0.25 mg/mL)","time":370,"value":5450},{"series":"Catechin (0.25 mg/mL)","time":380,"value":5640},{"series":"Catechin (0.25 mg/mL)","time":390,"value":5640},
{"series":"Catechin (0.25 mg/mL)","time":400,"value":5870},{"series":"Catechin (0.25 mg/mL)","time":410,"value":5960},{"series":"Catechin (0.25 mg/mL)","time":420,"value":5750},{"series":"Catechin (0.25 mg/mL)","time":430,"value":5910},{"series":"Catechin (0.25 mg/mL)","time":440,"value":5910},{"series":"Catechin (0.25 mg/mL)","time":450,"value":6190},{"series":"Catechin (0.25 mg/mL)","time":460,"value":6230},{"series":"Catechin (0.25 mg/mL)","time":470,"value":6060},{"series":"Catechin (0.25 mg/mL)","time":480,"value":6160},{"series":"Catechin (0.25 mg/mL)","time":490,"value":6160},
{"series":"Catechin (0.25 mg/mL)","time":500,"value":6380},{"series":"Catechin (0.25 mg/mL)","time":510,"value":6440},{"series":"Catechin (0.25 mg/mL)","time":520,"value":6230},{"series":"Catechin (0.25 mg/mL)","time":530,"value":6590},{"series":"Catechin (0.25 mg/mL)","time":540,"value":6330},{"series":"Catechin (0.25 mg/mL)","time":550,"value":6540},{"series":"Catechin (0.25 mg/mL)","time":560,"value":6720},{"series":"Catechin (0.25 mg/mL)","time":570,"value":6650},{"series":"Catechin (0.25 mg/mL)","time":580,"value":6720},{"series":"Catechin (0.25 mg/mL)","time":590,"value":7030},{"series":"Catechin (0.25 mg/mL)","time":600,"value":7010}
]
},
"vconcat": [
{
"width": 725, "height": 412,
"data": {"name": "absorbance"},
"encoding": {
"x": {"field": "time", "type": "quantitative", "scale": {"domain": [0, 500], "nice": false},
"axis": {"title": "Time (min)", "zindex": 1, "values": [0,100,200,300,400,500], "format": "d", "grid": false, "domainColor": "#868686", "tickColor": "#868686", "tickSize": 9, "labelPadding": 13, "titlePadding": 22, "labelFont": "Open Sans", "labelFontSize": 22, "labelColor": "#262626", "titleFont": "Open Sans", "titleFontSize": 22, "titleFontWeight": "normal", "titleColor": "#262626"}},
"y": {"field": "value", "type": "quantitative", "scale": {"domain": [0, 0.8], "nice": false},
"axis": {"title": "Absorbance at 232 nm", "zindex": 1, "values": [0,0.1,0.2,0.3,0.4,0.5,0.6,0.7,0.8], "format": "~g", "grid": false, "domainColor": "#868686", "tickColor": "#868686", "tickSize": 9, "labelPadding": 15, "titlePadding": 8, "labelFont": "Open Sans", "labelFontSize": 22, "labelColor": "#262626", "titleFont": "Open Sans", "titleFontSize": 22, "titleFontWeight": "normal", "titleColor": "#262626"}}
},
"layer": [
{"data": {"values": [{"time": -151, "value": 1.1262, "label": "Angle"}]},
"mark": {"type": "text", "align": "left", "baseline": "top", "font": "Liberation Sans", "fontSize": 270, "fontWeight": "bold", "color": "#d9d9d9"},
"encoding": {"text": {"field": "label"}}},
{"mark": {"type": "line", "strokeWidth": 1},
"encoding": {
"color": {"field": "series", "type": "nominal", "sort": ["Blank","Catechin (5 μg/mL)","Water extract (50 μg/mL)","Ethanol extract (50 μg/mL)"],
"scale": {"range": ["#3a3a3a","#3a3a3a","#3a3a3a","#3a3a3a"]},
"legend": {"orient": "none", "legendX": 397, "legendY": 267, "title": null, "symbolType": "M-7.8,0H7.8", "symbolSize": 36, "symbolStrokeWidth": 1.2, "labelOpacity": 0, "labelFont": "Open Sans", "labelFontSize": 21.5, "labelOffset": 26, "labelLimit": 500, "rowPadding": 15.5}}
}},
{"mark": {"type": "point", "filled": true, "size": 85, "strokeWidth": 1, "opacity": 1},
"encoding": {
"fill": {"field": "series", "type": "nominal", "scale": {"domain": ["Blank","Catechin (5 μg/mL)","Water extract (50 μg/mL)","Ethanol extract (50 μg/mL)"], "range": ["#3B8BE6","#E0782C","#92D050","#8A6BB8"]},
"legend": {"orient": "none", "legendX": 397, "legendY": 267, "title": null, "symbolSize": 36, "symbolStrokeWidth": 1, "labelFont": "Open Sans", "labelFontSize": 21.5, "labelColor": "#262626", "labelOffset": 26, "labelLimit": 500, "rowPadding": 15.5}},
"stroke": {"field": "series", "type": "nominal", "scale": {"domain": ["Blank","Catechin (5 μg/mL)","Water extract (50 μg/mL)","Ethanol extract (50 μg/mL)"], "range": ["#1A62C4","#E02A1A","#86C443","#7A58A8"]},
"legend": {"orient": "none", "legendX": 397, "legendY": 267, "title": null, "symbolSize": 36, "symbolStrokeWidth": 1, "labelFont": "Open Sans", "labelFontSize": 21.5, "labelColor": "#262626", "labelOffset": 26, "labelLimit": 500, "rowPadding": 15.5}},
"shape": {"field": "series", "type": "nominal", "scale": {"domain": ["Blank","Catechin (5 μg/mL)","Water extract (50 μg/mL)","Ethanol extract (50 μg/mL)"], "range": ["diamond","square","triangle-up","M-1,-1L1,1M-1,1L1,-1"]},
"legend": {"orient": "none", "legendX": 397, "legendY": 267, "title": null, "symbolSize": 36, "symbolStrokeWidth": 1, "labelFont": "Open Sans", "labelFontSize": 21.5, "labelColor": "#262626", "labelOffset": 26, "labelLimit": 500, "rowPadding": 15.5}}
}},
{"data": {"values": [{"time": 486.5, "value": 0.742, "label": "A"}]},
"mark": {"type": "text", "align": "right", "baseline": "alphabetic", "font": "Liberation Serif", "fontSize": 28, "fontWeight": "bold", "color": "#000"},
"encoding": {"text": {"field": "label"}}}
]
},
{
"width": 718, "height": 396,
"data": {"name": "chemi"},
"title": {"text": "B", "anchor": "end", "frame": "group", "offset": 22, "dx": 9, "font": "Liberation Serif", "fontSize": 28, "fontWeight": "bold", "color": "#000"},
"encoding": {
"x": {"field": "time", "type": "quantitative", "scale": {"domain": [0, 600], "nice": false},
"axis": {"title": "Time (s)", "values": [0,100,200,300,400,500,600], "format": "d", "grid": false, "domainColor": "#000", "domainWidth": 1.5, "tickColor": "#000", "tickWidth": 1.5, "tickSize": -5, "labelPadding": 24, "titlePadding": 26, "labelFont": "Liberation Sans", "labelFontSize": 18.5, "labelColor": "#000", "titleFont": "Liberation Sans", "titleFontSize": 18.5, "titleFontWeight": "normal", "titleColor": "#000"}},
"y": {"field": "value", "type": "quantitative", "scale": {"domain": [0, 25000], "nice": false},
"axis": {"title": "Chemiluminescence intensity/10sec", "values": [0,5000,10000,15000,20000,25000], "format": "d", "grid": false, "domainColor": "#000", "domainWidth": 1.5, "tickColor": "#000", "tickWidth": 1.5, "tickSize": -5, "labelPadding": 21, "titlePadding": 26, "labelFont": "Liberation Sans", "labelFontSize": 18.5, "labelColor": "#000", "titleFont": "Liberation Sans", "titleFontSize": 17, "titleFontWeight": "normal", "titleColor": "#000"}}
},
"layer": [
{"mark": {"type": "line", "strokeWidth": 1.5},
"encoding": {
"color": {"field": "series", "type": "nominal", "sort": ["Blank","Water extract (0.25 mg/mL)","Ethanol extract (0.25 mg/mL)","Catechin (0.25 mg/mL)"],
"scale": {"range": ["#1565D8","#2E9E5E","#2323A0","#8B0000"]},
"legend": {"orient": "none", "legendX": 56, "legendY": 3, "title": null, "symbolType": "M-3.5,0H3.5", "symbolSize": 130, "symbolStrokeWidth": 2.5, "labelOpacity": 0, "labelFont": "Liberation Sans", "labelFontSize": 15.5, "labelOffset": 15, "labelLimit": 500, "rowPadding": 12.5}},
"strokeDash": {"field": "series", "type": "nominal", "sort": ["Blank","Water extract (0.25 mg/mL)","Ethanol extract (0.25 mg/mL)","Catechin (0.25 mg/mL)"],
"scale": {"range": [[1,0],[1,0],[5,3],[1,0]]},
"legend": null}
}},
{"mark": {"type": "point", "filled": true, "size": 130, "strokeWidth": 1.5, "opacity": 1},
"encoding": {
"fill": {"field": "series", "type": "nominal", "scale": {"domain": ["Blank","Water extract (0.25 mg/mL)","Ethanol extract (0.25 mg/mL)","Catechin (0.25 mg/mL)"], "range": ["#0F5FD0","#7F7A00","#2B2BB0","#800000"]},
"legend": {"orient": "none", "legendX": 56, "legendY": 3, "title": null, "symbolSize": 130, "symbolStrokeWidth": 1.5, "labelFont": "Liberation Sans", "labelFontSize": 15.5, "labelColor": "#000", "labelOffset": 15, "labelLimit": 500, "rowPadding": 12.5}},
"stroke": {"field": "series", "type": "nominal", "scale": {"domain": ["Blank","Water extract (0.25 mg/mL)","Ethanol extract (0.25 mg/mL)","Catechin (0.25 mg/mL)"], "range": ["#0F5FD0","#3CB371","#2B2BB0","#800000"]},
"legend": {"orient": "none", "legendX": 56, "legendY": 3, "title": null, "symbolSize": 130, "symbolStrokeWidth": 1.5, "labelFont": "Liberation Sans", "labelFontSize": 15.5, "labelColor": "#000", "labelOffset": 15, "labelLimit": 500, "rowPadding": 12.5}},
"shape": {"field": "series", "type": "nominal", "scale": {"domain": ["Blank","Water extract (0.25 mg/mL)","Ethanol extract (0.25 mg/mL)","Catechin (0.25 mg/mL)"], "range": ["diamond","triangle-up","M-0.8,-0.8L0.8,0.8M-0.8,0.8L0.8,-0.8","square"]},
"legend": {"orient": "none", "legendX": 56, "legendY": 3, "title": null, "symbolSize": 130, "symbolStrokeWidth": 1.5, "labelFont": "Liberation Sans", "labelFontSize": 15.5, "labelColor": "#000", "labelOffset": 15, "labelLimit": 500, "rowPadding": 12.5}}
}},
{"data": {"values": [{"time": 80, "value": 10670, "label": "luminol\ninjection"}]},
"mark": {"type": "text", "align": "left", "baseline": "top", "font": "Liberation Serif", "fontSize": 26, "fontWeight": "bold", "lineBreak": "\n", "lineHeight": 27, "color": "#000"},
"encoding": {"text": {"field": "label"}}},
{"data": {"values": [{"time": 164, "value": 6550, "time2": 190, "value2": 4570}]},
"mark": {"type": "rule", "strokeWidth": 2.5, "color": "#000"},
"encoding": {"x2": {"field": "time2"}, "y2": {"field": "value2"}}},
{"data": {"values": [{"time": 190, "value": 4570}]},
"mark": {"type": "point", "shape": "triangle-up", "angle": 136, "size": 300, "filled": true, "color": "#000", "opacity": 1},
"encoding": {}}
]
}
]
}
